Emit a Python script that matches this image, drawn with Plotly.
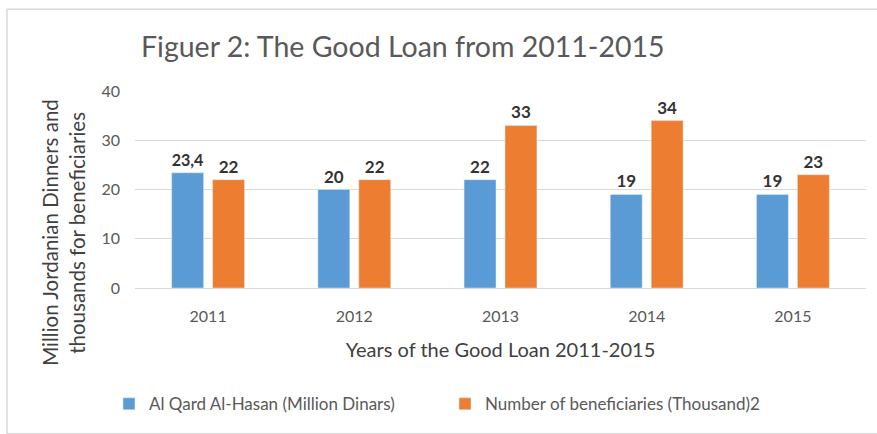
import plotly.graph_objects as go

years = ["2011", "2012", "2013", "2014", "2015"]
loan_values = [23.4, 20, 22, 19, 19]
loan_labels = ["23,4", "20", "22", "19", "19"]
benef_values = [22, 22, 33, 34, 23]
benef_labels = ["22", "22", "33", "34", "23"]
y_ticks = [0, 10, 20, 30, 40]
y_title_lines = ["Million Jordanian Dinners and", "thousands for beneficiaries"]

W, H = 877, 434
L, R, T, B = 135, 11, 91, 143
pw, ph = W - L - R, H - T - B

FONT = "Lato, 'Open Sans', sans-serif"

fig = go.Figure()
fig.add_trace(go.Bar(
    x=years, y=loan_values, name="Al Qard Al-Hasan (Million Dinars)",
    marker=dict(color="#5b9bd5"), text=loan_labels, textposition="outside",
    textfont=dict(size=17, color="#333333", family=FONT, weight="bold"),
    cliponaxis=False))
fig.add_trace(go.Bar(
    x=years, y=benef_values, name="Number of beneficiaries (Thousand)2",
    marker=dict(color="#ed7d31"), text=benef_labels, textposition="outside",
    textfont=dict(size=17, color="#333333", family=FONT, weight="bold"),
    cliponaxis=False))

fig.update_layout(
    width=W, height=H,
    margin=dict(l=L, r=R, t=T, b=B),
    paper_bgcolor="white", plot_bgcolor="white",
    barmode="group", bargap=0.44, bargroupgap=0.22,
    font=dict(family=FONT, color="#595959"),
    showlegend=True,
    legend=dict(orientation="h", x=(109 - L) / pw, y=-(409 - (T + ph)) / ph,
                xanchor="left", yanchor="middle",
                font=dict(size=17, color="#595959"), itemwidth=30,
                traceorder="normal", entrywidth=291),
    title=dict(text="Figuer 2: The Good Loan from 2011-2015",
               x=141 / W, xanchor="left", y=1 - 47 / H, yanchor="middle",
               font=dict(size=28.5, color="#595959", family=FONT)),
)
fig.update_yaxes(range=[0, 40], tickvals=y_ticks, showgrid=True,
                 gridcolor="#d9d9d9", gridwidth=1, zeroline=False,
                 showline=False, ticks="", ticklabelstandoff=14,
                 tickfont=dict(size=16, color="#595959"))
fig.update_xaxes(showline=True, linecolor="#d9d9d9", ticks="",
                 ticklabelstandoff=14,
                 tickfont=dict(size=16, color="#595959"),
                 title=dict(text="Years of the Good Loan 2011-2015",
                            font=dict(size=20, color="#404040"), standoff=18))

for line_text, px in zip(y_title_lines, [50, 77]):
    fig.add_annotation(text=line_text,
                       textangle=-90, xref="paper", yref="paper",
                       x=(px - L) / pw, y=(T + ph - 235) / ph,
                       xanchor="center", yanchor="middle", showarrow=False,
                       font=dict(size=20.5, color="#404040"))

fig.add_shape(type="rect", xref="paper", yref="paper",
              x0=(7 - L) / pw, x1=(W + 5 - L) / pw,
              y0=(T + ph - H - 5) / ph, y1=(T + ph - 8) / ph,
              line=dict(color="#d9d9d9", width=1.5), layer="below")

fig.write_html("out.html")
